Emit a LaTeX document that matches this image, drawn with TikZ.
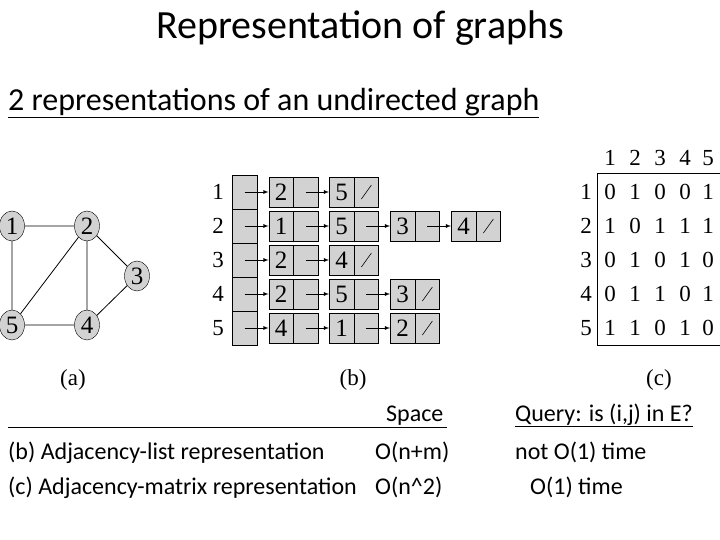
\documentclass[tikz,border=0pt]{standalone}
\usepackage{fontspec}
\setmainfont{Carlito}
\newfontfamily\tms{Liberation Serif}
\usetikzlibrary{shapes.geometric}
\begin{document}
\begin{tikzpicture}[x=1pt,y=-1pt,
  gv/.style={ellipse,draw,fill=gray!35,minimum width=25pt,minimum height=30pt,inner sep=0pt,font=\tms\fontsize{25}{25}\selectfont},
  cell/.style={draw,fill=gray!35,minimum width=24.5pt,minimum height=30pt,inner sep=0pt,font=\tms\fontsize{25}{25}\selectfont},
  arr/.style={draw,fill=gray!35,minimum width=25pt,minimum height=34pt,inner sep=0pt},
  lab/.style={font=\tms\fontsize{23}{23}\selectfont},
  ed/.style={line width=0.8pt},
  ar/.style={-latex,line width=0.8pt},
  bt/.style={font=\fontsize{24}{26}\selectfont,anchor=base west,inner sep=0pt}]
\useasboundingbox (0,0) rectangle (720,540);
\node (title) at (360,28) {\fontsize{40}{44}\selectfont Representation of graphs};
\node[anchor=west,inner sep=0pt] (sub) at (8,103) {\fontsize{32}{34}\selectfont\underline{2 representations of an undirected graph}};
% graph (a)
\node[gv] (g1) at (12,226) {1};
\node[gv] (g2) at (87,226) {2};
\node[gv] (g3) at (137,276) {3};
\node[gv] (g5) at (12,325) {5};
\node[gv] (g4) at (87,325) {4};
\draw[ed] (g1)--(g2) (g1)--(g5) (g2)--(g5) (g2)--(g4) (g2)--(g3) (g3)--(g4) (g5)--(g4);
\node[lab] (la) at (73,380) {(a)};
% adjacency list (b)
\foreach \r/\y in {1/192,2/226,3/260,4/294,5/328}{
  \node[arr] (a\r) at (244.5,\y) {};
  \node[lab] (rl\r) at (218,\y) {\r};
}
\newcommand\lnode[4]{%
  \node[cell] (#1v) at (#2,#3) {#4};
  \node[cell,anchor=west] (#1p) at (#1v.east) {};}
\newcommand\nullp[1]{\draw[line width=0.6pt] ([xshift=-5pt,yshift=-7pt]#1.center)--([xshift=5pt,yshift=7pt]#1.center);}
\lnode{p11}{281}{192}{2}\lnode{p12}{341.5}{192}{5}\nullp{p12p}
\lnode{p21}{281}{226}{1}\lnode{p22}{341.5}{226}{5}\lnode{p23}{402.5}{226}{3}\lnode{p24}{463.5}{226}{4}\nullp{p24p}
\lnode{p31}{281}{260}{2}\lnode{p32}{341.5}{260}{4}\nullp{p32p}
\lnode{p41}{281}{294}{2}\lnode{p42}{341.5}{294}{5}\lnode{p43}{402.5}{294}{3}\nullp{p43p}
\lnode{p51}{281}{328}{4}\lnode{p52}{341.5}{328}{1}\lnode{p53}{402.5}{328}{2}\nullp{p53p}
\foreach \r in {1,...,5}{\draw[ar] (a\r.center)--(p\r1v.west);}
\foreach \a/\b in {p11/p12,p21/p22,p22/p23,p23/p24,p31/p32,p41/p42,p42/p43,p51/p52,p52/p53}{
  \draw[ar] (\a p.center)--(\b v.west);}
\node[lab] (lb) at (353,380) {(b)};
% matrix (c)
\node[draw,minimum width=123pt,minimum height=172pt,inner sep=0pt] (mbox) at (658.5,259) {};
\foreach \c/\x in {1/610,2/635,3/660,4/685,5/708}{\node[lab] (ch\c) at (\x,158) {\c};}
\foreach \r/\y/\vals in {1/192/{0,1,0,0,1},2/226/{1,0,1,1,1},3/260/{0,1,0,1,0},4/294/{0,1,1,0,1},5/328/{1,1,0,1,0}}{
  \node[lab] (rh\r) at (586,\y) {\r};
  \foreach \v [count=\c] in \vals {
    \pgfmathsetmacro\xx{585+25*\c-(\c==5?2:0)}
    \node[lab] (m\r\c) at (\xx,\y) {\v};}
}
\node[lab] (lc) at (659,380) {(c)};
% table
\coordinate (l0) at (8,427);
\coordinate (l1) at (447,427);
\draw[line width=0.8pt] (l0)--(l1);
\node[bt] (hs) at (386,421) {Space};
\node[bt] (hq) at (515,421) {\underline{Query: is (i,j) in E?}};
\node[bt] (b1) at (8,459) {(b) Adjacency-list representation};
\node[bt] (b2) at (375,459) {O(n+m)};
\node[bt] (b3) at (515,459) {not O(1) time};
\node[bt] (c1) at (8,494) {(c) Adjacency-matrix representation};
\node[bt] (c2) at (375,494) {O(n\^{}2)};
\node[bt] (c3) at (530,494) {O(1) time};
\end{tikzpicture}
\end{document}
